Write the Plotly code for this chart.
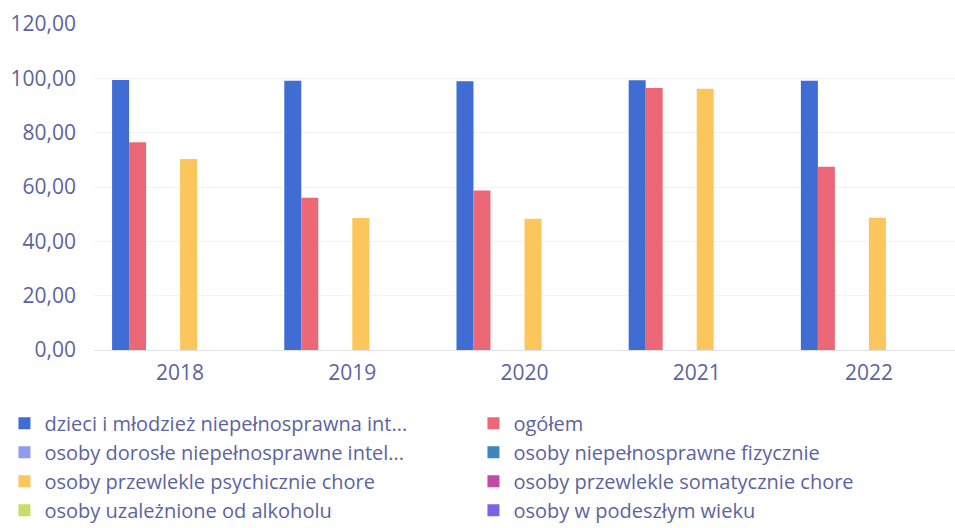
import plotly.graph_objects as go

years = ["2018", "2019", "2020", "2021", "2022"]

series_names = [
    "dzieci i młodzież niepełnosprawna int...",
    "ogółem",
    "osoby dorosłe niepełnosprawne intel...",
    "osoby niepełnosprawne fizycznie",
    "osoby przewlekle psychicznie chore",
    "osoby przewlekle somatycznie chore",
    "osoby uzależnione od alkoholu",
    "osoby w podeszłym wieku",
]

dzieci = [99.4, 99.1, 98.9, 99.3, 99.1]
ogolem = [76.5, 56.0, 58.7, 96.4, 67.5]
dorosle = [0, 0, 0, 0, 0]
fizyczne = [0, 0, 0, 0, 0]
psychiczne = [70.3, 48.6, 48.3, 96.2, 48.7]
somatyczne = [0, 0, 0, 0, 0]
alkohol = [0, 0, 0, 0, 0]
podeszly = [0, 0, 0, 0, 0]

series_values = [dzieci, ogolem, dorosle, fizyczne, psychiczne, somatyczne, alkohol, podeszly]
colors = ["#3f6dd3", "#ec6877", "#8f9df0", "#3d87bd", "#fcc65c", "#c24aa6", "#c6dd6a", "#7d62e6"]

text_color = "#5c64a0"
font_family = "Open Sans, Noto Sans, sans-serif"

fig = go.Figure()
for name, vals, col in zip(series_names, series_values, colors):
    fig.add_trace(go.Bar(x=years, y=vals, name=name, marker=dict(color=col, line=dict(width=0))))

fig.update_layout(
    width=955, height=528,
    barmode="group", bargap=0.21, bargroupgap=0,
    separators=", ",
    paper_bgcolor="white", plot_bgcolor="white",
    margin=dict(l=94, r=0, t=24, b=178, autoexpand=False),
    font=dict(family=font_family, color=text_color, size=20),
    showlegend=True,
    legend=dict(
        orientation="h", x=-0.104, y=-0.165, xanchor="left", yanchor="top",
        entrywidth=424, entrywidthmode="pixels", traceorder="normal",
        font=dict(size=20, color=text_color), bgcolor="rgba(0,0,0,0)",
    ),
    xaxis=dict(
        type="category", showgrid=False, showline=False, ticks="",
        tickfont=dict(size=21, color=text_color), ticklabelstandoff=8,
    ),
    yaxis=dict(
        range=[0, 120], dtick=20, tickformat=".2f",
        showgrid=True, gridcolor="#f3f3f7", zeroline=True, zerolinecolor="#dfe0ea", zerolinewidth=1,
        tickfont=dict(size=21, color=text_color), ticklabelstandoff=17,
    ),
)

fig.write_html(
    "out.html",
    config={"displayModeBar": False},
    post_script="document.body.style.margin='0';document.body.style.overflow='hidden';",
)
